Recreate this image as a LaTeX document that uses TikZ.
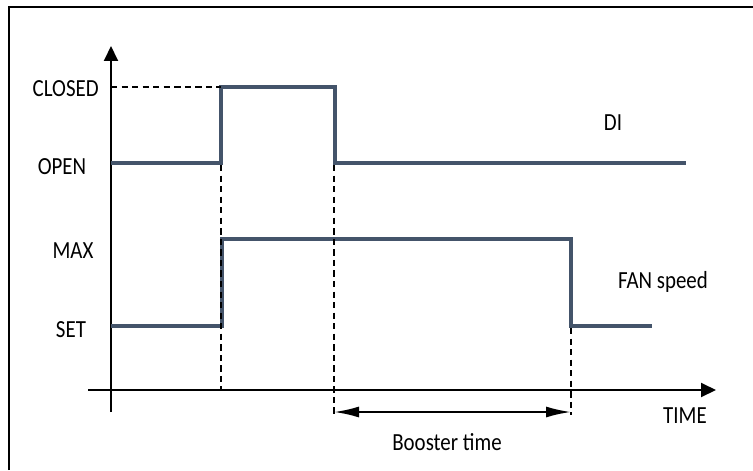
\documentclass[tikz,border=0pt]{standalone}
\usepackage{fontspec}
\setmainfont{Carlito}
\usepackage{tikz}
\usetikzlibrary{arrows.meta,positioning,calc}
\definecolor{signalblue}{RGB}{68,84,106}
\tikzset{
    diagramframe/.style={draw, line width=1.4pt},
    diagramaxis/.style={line width=1.1pt, -{Triangle[length=0.3cm, width=0.28cm]}},
    diagramsignal/.style={draw=signalblue, line width=2.1pt, line join=miter},
    diagramguide/.style={line width=1.2pt, dash pattern=on 3.6pt off 2.4pt},
    diagramspan/.style={line width=1.2pt, {Latex[length=0.5cm, width=0.22cm]}-{Latex[length=0.5cm, width=0.22cm]}},
    diagramlabel/.style={inner sep=0pt, font=\fontsize{14}{16}\selectfont, xscale=0.85, transform shape}
}
\begin{document}
\begin{tikzpicture}[x=0.02cm, y=-0.02cm]
        \useasboundingbox (0,0) rectangle (753,470);
        \draw[diagramframe] (9,470) -- (9,7) -- (753,7);
        % axes
        \coordinate (origin) at (111,390);
        \coordinate (ybot) at (111,412);
        \coordinate (ytop) at (111,46);
        \coordinate (xleft) at (88,390);
        \coordinate (xright) at (716,390);
        \draw[diagramaxis] (ybot) -- (ytop);
        \draw[diagramaxis] (xleft) -- (xright);
        % level labels
        \node[diagramlabel, anchor=east] (closed) at (99,89) {CLOSED};
        \node[diagramlabel] (open) at (62,167) {OPEN};
        \node[diagramlabel] (max) at (73,251) {MAX};
        \node[diagramlabel] (set) at (71,330) {SET};
        \node[diagramlabel] (di) at (613,123) {DI};
        \node[diagramlabel] (fan) at (663,282) {FAN speed};
        \node[diagramlabel] (time) at (685,416) {TIME};
        \node[diagramlabel] (booster) at (447,442) {Booster time};
        % DI signal
        \draw[diagramsignal] (111,163) -- (221,163) -- (221,87) -- (335,87) -- (335,163) -- (686,163);
        % fan signal
        \draw[diagramsignal] (111,326) -- (222,326) -- (222,239) -- (571,239) -- (571,326) -- (652,326);
        % guides
        \draw[diagramguide] (111,87) -- (221,87);
        \draw[diagramguide] (221,165) -- (221,390);
        \draw[diagramguide] (334,165) -- (334,415);
        \draw[diagramguide] (571,328) -- (571,415);
        \coordinate (spanstart) at (334,412);
        \coordinate (spanend) at (571,412);
        \draw[diagramspan] (spanstart) -- (spanend);
    \end{tikzpicture}
\end{document}
